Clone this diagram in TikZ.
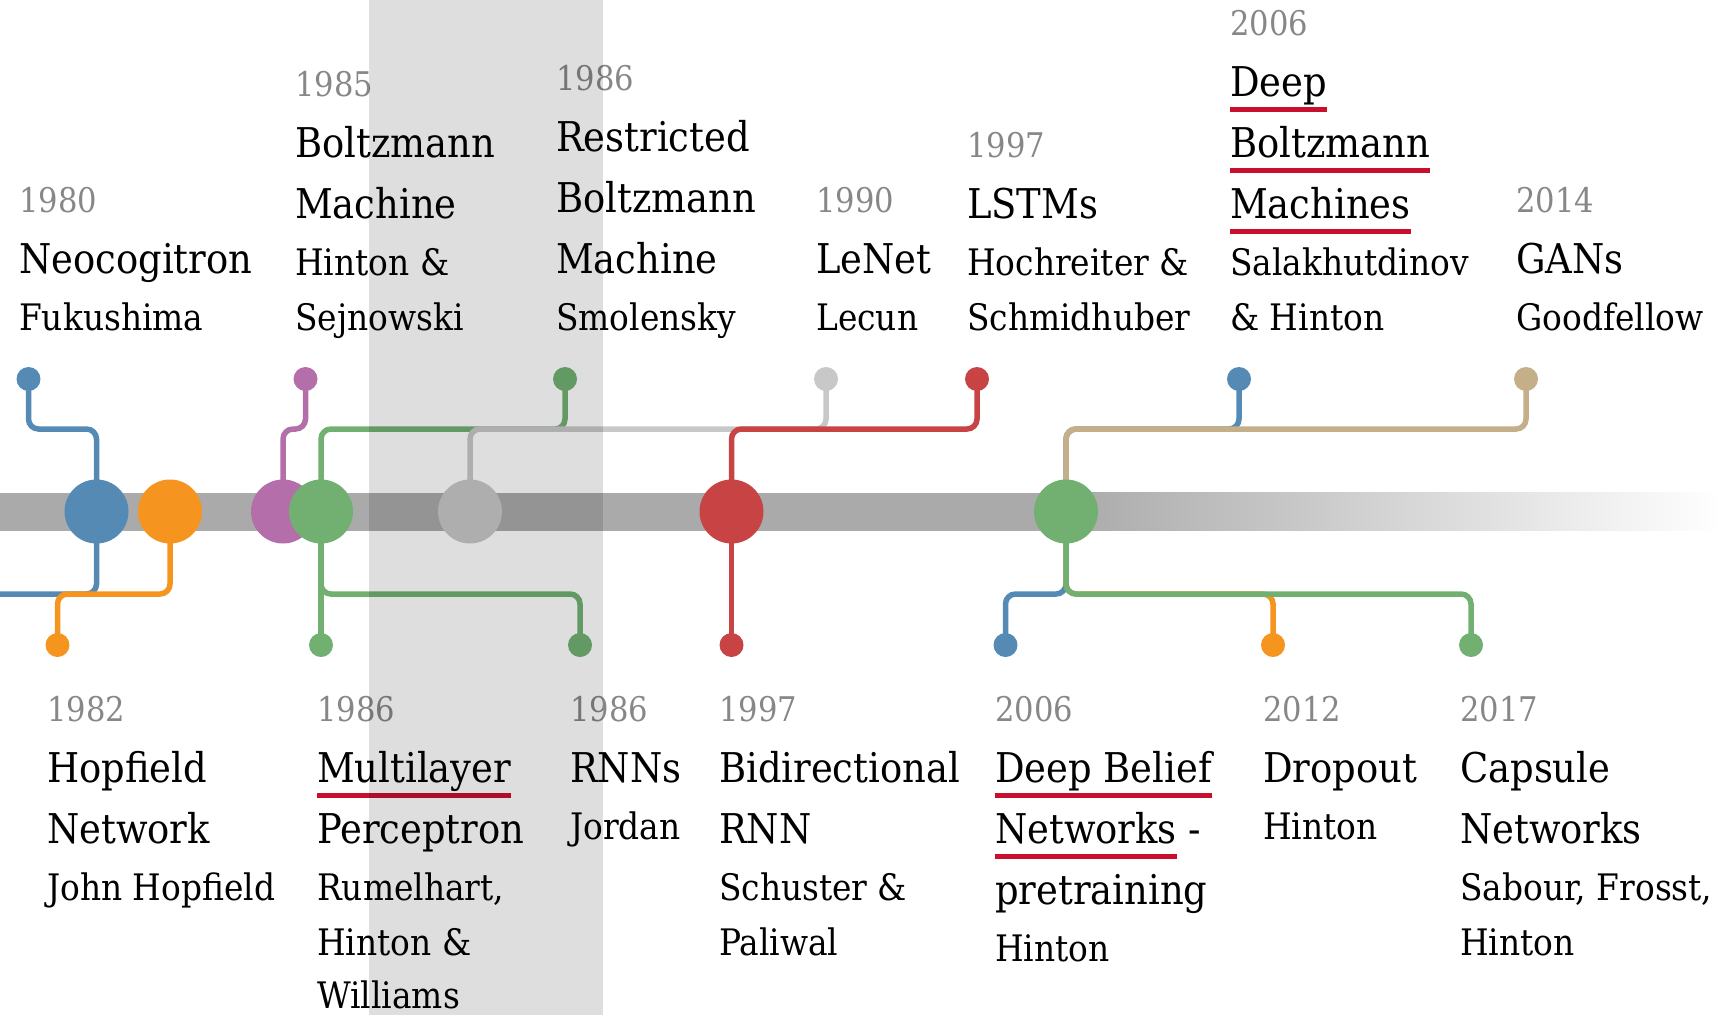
\documentclass[tikz,border=0pt]{standalone}
\usepackage{fontspec}
\setmainfont{DejaVu Serif Condensed}

\definecolor{nnblue}{RGB}{85,138,181}
\definecolor{nnorange}{RGB}{246,148,32}
\definecolor{nnpurple}{RGB}{180,110,170}
\definecolor{nngreen}{RGB}{114,176,114}
\definecolor{nngray}{RGB}{200,200,200}
\definecolor{nnred}{RGB}{200,68,68}
\definecolor{nntan}{RGB}{197,175,137}
\definecolor{bargray}{RGB}{170,170,170}
\definecolor{yeargray}{RGB}{135,135,135}
\definecolor{ulred}{RGB}{200,16,46}

\newcommand\yr[1]{{\fontsize{34}{55}\selectfont\color{yeargray}#1}}
\newcommand\ttl[1]{{\fontsize{41}{55}\selectfont#1}}
\newcommand\who[1]{{\fontsize{36.5}{55}\selectfont#1}}
\newcommand\redul[1]{\setbox0\hbox{#1}\rlap{\color{ulred}\rule[-15.5pt]{\wd0}{4.8pt}}\box0\relax}
% stacks of lines, hung from the last or the first baseline
\newcommand\upstack[1]{\begin{tabular}[b]{@{}l@{}}#1\end{tabular}}
\newcommand\downstack[1]{\begin{tabular}[t]{@{}l@{}}#1\end{tabular}}

\pgfdeclarelayer{bg}
\pgfdeclarelayer{fg}
\pgfsetlayers{bg,main,fg}

\tikzset{
  hub/.style={circle,inner sep=0pt,minimum size=64pt},
  dot/.style={circle,inner sep=0pt,minimum size=24pt},
  link/.style={line width=5.5pt,rounded corners=10pt},
  stacktext/.style={anchor=base west,inner sep=0pt,font=\fontsize{36}{55}\selectfont}
}

\begin{document}
\begin{tikzpicture}[x=1pt,y=-1pt]
  \useasboundingbox (0,0) rectangle (1721,1015);

  % hubs on the time line
  \node[hub,fill=nnblue]   (hub80) at (96.5,511.5) {};
  \node[hub,fill=nnorange] (hub82) at (170,511.5) {};
  \node[hub,fill=nnpurple] (hub85) at (283,511.5) {};
  \node[hub,fill=nngreen]  (hub86) at (321,511.5) {};
  \node[hub,fill=nngray]   (hub90) at (470,511.5) {};
  \node[hub,fill=nnred]    (hub97) at (731.5,511.5) {};
  \node[hub,fill=nngreen]  (hub06) at (1066,511.5) {};

  % end dots above
  \node[dot,fill=nnblue]   (dot80)  at (28.5,379) {};
  \node[dot,fill=nnpurple] (dot85)  at (305.5,379) {};
  \node[dot,fill=nngreen]  (dot86r) at (565,379) {};
  \node[dot,fill=nngray]   (dot90)  at (826,379) {};
  \node[dot,fill=nnred]    (dot97l) at (977,379) {};
  \node[dot,fill=nnblue]   (dot06m) at (1239,379) {};
  \node[dot,fill=nntan]    (dot14)  at (1526,379) {};
  % end dots below
  \node[dot,fill=nnorange] (dot82)  at (57.5,645) {};
  \node[dot,fill=nngreen]  (dot86m) at (321,645) {};
  \node[dot,fill=nngreen]  (dot86j) at (580,645) {};
  \node[dot,fill=nnred]    (dot97b) at (731.5,645) {};
  \node[dot,fill=nnblue]   (dot06b) at (1005.5,645) {};
  \node[dot,fill=nnorange] (dot12)  at (1273,645) {};
  \node[dot,fill=nngreen]  (dot17)  at (1471,645) {};

  \coordinate (upper) at (0,429);
  \coordinate (lower) at (0,594);
  \coordinate (offleft) at (0,594);

  \begin{pgfonlayer}{bg}
    % time line
    \fill[bargray] (0,492.5) rectangle (1066,530.5);
    \shade[left color=bargray,right color=white] (1066,492.5) rectangle (1721,530.5);
    % links
    \draw[link,nnblue] (hub80.center) -- (hub80.center |- upper) -- (dot80.center |- upper) -- (dot80.center);
    \draw[link,nnblue] (hub80.center) -- (hub80.center |- lower) -- (offleft);
    \draw[link,nnorange] (hub82.center) -- (hub82.center |- lower) -- (dot82.center |- lower) -- (dot82.center);
    \draw[link,nnpurple] (hub85.center) -- (hub85.center |- upper) -- (dot85.center |- upper) -- (dot85.center);
    \draw[link,nngreen] (hub86.center) -- (hub86.center |- upper) -- (dot86r.center |- upper) -- (dot86r.center);
    \draw[link,nngreen] (hub86.center) -- (dot86m.center);
    \draw[link,nngreen] (hub86.center) -- (hub86.center |- lower) -- (dot86j.center |- lower) -- (dot86j.center);
    \draw[link,nngray] (hub90.center) -- (hub90.center |- upper) -- (dot90.center |- upper) -- (dot90.center);
    \draw[link,nnred] (hub97.center) -- (hub97.center |- upper) -- (dot97l.center |- upper) -- (dot97l.center);
    \draw[link,nnred] (hub97.center) -- (dot97b.center);
    \draw[link,nnblue] (hub06.center) -- (hub06.center |- upper) -- (dot06m.center |- upper) -- (dot06m.center);
    \draw[link,nnblue] (hub06.center) -- (hub06.center |- lower) -- (dot06b.center |- lower) -- (dot06b.center);
    \draw[link,nnorange] (hub06.center) -- (hub06.center |- lower) -- (dot12.center |- lower) -- (dot12.center);
    \draw[link,nntan] (hub06.center) -- (hub06.center |- upper) -- (dot14.center |- upper) -- (dot14.center);
    \draw[link,nngreen] (hub06.center) -- (hub06.center |- lower) -- (dot17.center |- lower) -- (dot17.center);
  \end{pgfonlayer}

  % texts above the line
  \node[stacktext] (neo) at (19,330) {\upstack{\yr{1980}\\[6pt] \ttl{Neocogitron}\\[2pt] \who{Fukushima}}};
  \node[stacktext] (bm) at (295,330) {\upstack{\yr{1985}\\[6pt] \ttl{Boltzmann}\\[6pt] \ttl{Machine}\\[2pt] \who{Hinton \&}\\ \who{Sejnowski}}};
  \node[stacktext] (rbm) at (556,330) {\upstack{\yr{1986}\\[6pt] \ttl{Restricted}\\[6pt] \ttl{Boltzmann}\\[6pt] \ttl{Machine}\\[2pt] \who{Smolensky}}};
  \node[stacktext] (lenet) at (816,330) {\upstack{\yr{1990}\\[6pt] \ttl{LeNet}\\[2pt] \who{Lecun}}};
  \node[stacktext] (lstm) at (967,330) {\upstack{\yr{1997}\\[6pt] \ttl{LSTMs}\\[2pt] \who{Hochreiter \&}\\ \who{Schmidhuber}}};
  \node[stacktext] (dbm) at (1230,330) {\upstack{\yr{2006}\\[6pt] \ttl{\redul{Deep}}\\[6pt] \ttl{\redul{Boltzmann}}\\[6pt] \ttl{\redul{Machines}}\\[2pt] \who{Salakhutdinov}\\ \who{\& Hinton}}};
  \node[stacktext] (gan) at (1516,330) {\upstack{\yr{2014}\\[6pt] \ttl{GANs}\\[2pt] \who{Goodfellow}}};

  % texts below the line
  \node[stacktext] (hop) at (47,721) {\downstack{\yr{1982}\\[6pt] \ttl{Hopfield}\\[6pt] \ttl{Network}\\[2pt] \who{John Hopfield}}};
  \node[stacktext] (mlp) at (317,721) {\downstack{\yr{1986}\\[6pt] \ttl{\redul{Multilayer}}\\[6pt] \ttl{Perceptron}\\[2pt] \who{Rumelhart,}\\ \who{Hinton \&}\\[-2pt] \who{Williams}}};
  \node[stacktext] (rnn) at (570,721) {\downstack{\yr{1986}\\[6pt] \ttl{RNNs}\\[2pt] \who{Jordan}}};
  \node[stacktext] (birnn) at (719,721) {\downstack{\yr{1997}\\[6pt] \ttl{Bidirectional}\\[6pt] \ttl{RNN}\\[2pt] \who{Schuster \&}\\ \who{Paliwal}}};
  \node[stacktext] (dbn) at (995,721) {\downstack{\yr{2006}\\[6pt] \ttl{\redul{Deep Belief}}\\[6pt] \ttl{\redul{Networks} -}\\[6pt] \ttl{pretraining}\\[2pt] \who{Hinton}}};
  \node[stacktext] (drop) at (1263,721) {\downstack{\yr{2012}\\[6pt] \ttl{Dropout}\\[2pt] \who{Hinton}}};
  \node[stacktext] (caps) at (1460,721) {\downstack{\yr{2017}\\[6pt] \ttl{Capsule}\\[6pt] \ttl{Networks}\\[2pt] \who{Sabour, Frosst,}\\ \who{Hinton}}};

  % shaded years
  \begin{pgfonlayer}{fg}
    \fill[black,opacity=0.13] (369,0) rectangle (603,1015);
  \end{pgfonlayer}
\end{tikzpicture}
\end{document}
